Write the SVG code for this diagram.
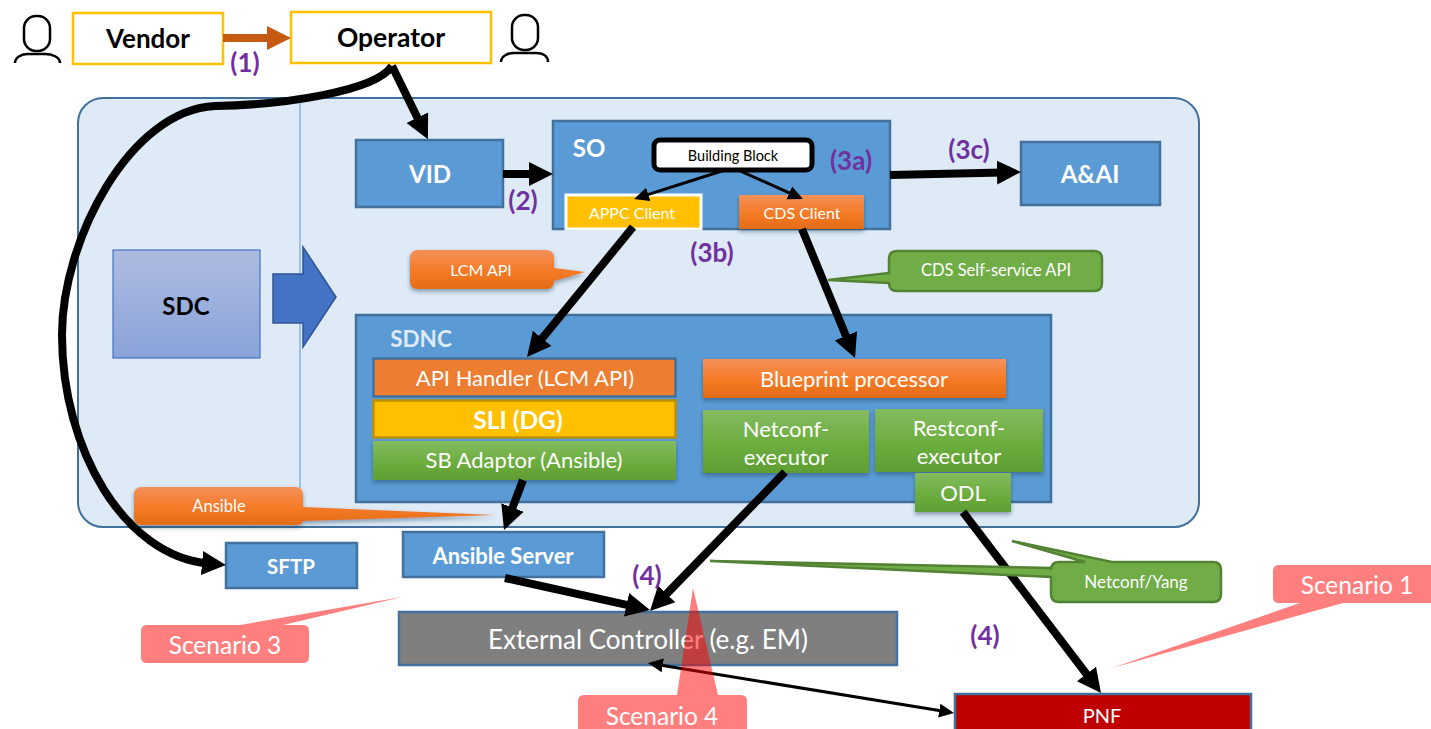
<svg xmlns="http://www.w3.org/2000/svg" width="1431" height="729" viewBox="0 0 1431 729">
<style>
text{font-family:Lato,"Open Sans","Liberation Sans",sans-serif;text-anchor:middle;dominant-baseline:central;fill:#fff}
.blue{fill:#5B9BD5;stroke:#41719C;stroke-width:2.5}
.org{fill:url(#go);filter:url(#sh)}
.grn{fill:url(#gg);filter:url(#sh)}
.b{font-weight:700}
.num{font-weight:700;font-size:26px;fill:#7030A0}
.thick{fill:none;stroke:#000;stroke-width:8;marker-end:url(#ah)}
.thin{fill:none;stroke:#000;stroke-width:3;marker-end:url(#as)}
.scn{fill:#f00;fill-opacity:.5}
.cg{fill:#70AD47;stroke:#548235;stroke-width:2.5}
.person{fill:none;stroke:#000;stroke-width:2.5}
</style>
<defs>
<linearGradient id="go" x1="0" y1="0" x2="0" y2="1"><stop offset="0" stop-color="#F4905A"/><stop offset=".55" stop-color="#F57A25"/><stop offset="1" stop-color="#E36C17"/></linearGradient>
<linearGradient id="gg" x1="0" y1="0" x2="0" y2="1"><stop offset="0" stop-color="#84BB60"/><stop offset=".55" stop-color="#6CAD3E"/><stop offset="1" stop-color="#5E9E33"/></linearGradient>
<linearGradient id="gs" x1="0" y1="0" x2="0" y2="1"><stop offset="0" stop-color="#AEBBE0"/><stop offset="1" stop-color="#8AA3D9"/></linearGradient>
<filter id="sh" x="-10%" y="-20%" width="120%" height="150%"><feDropShadow dx="0" dy="2.5" stdDeviation="2" flood-color="#1f3050" flood-opacity=".45"/></filter>
<marker id="ah" markerUnits="userSpaceOnUse" markerWidth="24" markerHeight="26" refX="6" refY="13" orient="auto-start-reverse"><path d="M0 1 24 13 0 25z" fill="#000"/></marker>
<marker id="ao" markerUnits="userSpaceOnUse" markerWidth="24" markerHeight="26" refX="6" refY="13" orient="auto"><path d="M0 1 24 13 0 25z" fill="#C55A11"/></marker>
<marker id="as" markerUnits="userSpaceOnUse" markerWidth="15" markerHeight="16" refX="3" refY="8" orient="auto-start-reverse"><path d="M0 1 15 8 0 15z" fill="#000"/></marker>
</defs>

<g id="platform"><rect x="78" y="98" width="1121" height="429" rx="25" fill="#DEEAF6" stroke="#41719C" stroke-width="2"/><line x1="300" y1="98" x2="300" y2="488" stroke="#5B9BD5" stroke-width="1"/></g>
<g id="vendor-user" class="person"><rect x="24" y="16" width="26" height="35" rx="12"/><path d="M15 63C15 57 22 54 28 54H45C52 54 60 57 60 63"/></g>
<g id="operator-user" class="person"><rect x="512" y="15" width="26" height="35" rx="12"/><path d="M501 62C501 56 508 53 514 53H536C543 53 548 56 548 62"/></g>
<g id="vendor"><rect x="73" y="13" width="150" height="51" fill="#fff" stroke="#FFC000" stroke-width="2.5"/><text x="148" y="38" class="b" font-size="26" style="fill:#000">Vendor</text></g>
<g id="operator"><rect x="291" y="12" width="200" height="51" fill="#fff" stroke="#FFC000" stroke-width="2.5"/><text x="391" y="37" class="b" font-size="26.500" style="fill:#000">Operator</text></g>
<g id="vid"><rect x="356" y="140" width="147" height="67" class="blue"/><text x="430" y="173" class="b" font-size="24">VID</text></g>
<g id="so"><rect x="553" y="121" width="337" height="108" class="blue"/><text x="589" y="147" class="b" font-size="24">SO</text></g>
<g id="building-block"><rect x="654" y="140" width="158" height="30" rx="6" fill="#fff" stroke="#000" stroke-width="5"/><text x="733" y="155" font-size="14.500" style="fill:#000">Building Block</text></g>
<g id="appc-client"><rect x="566" y="195" width="135" height="34" fill="#FFC000" stroke="#fff" stroke-width="3"/><text x="632" y="212" font-size="16">APPC Client</text></g>
<g id="cds-client"><rect x="739" y="195" width="125" height="34" class="org"/><text x="802" y="212" font-size="16">CDS Client</text></g>
<g id="aai"><rect x="1021" y="142" width="139" height="63" class="blue"/><text x="1090" y="173" class="b" font-size="24">A&amp;AI</text></g>
<g id="sdc"><rect x="113" y="250" width="147" height="108" fill="url(#gs)" stroke="#4472C4" stroke-width="1.2"/><text x="186" y="305" class="b" font-size="24" style="fill:#000">SDC</text></g>
<g id="sdc-arrow"><path d="M273 274H303V247L336 297 303 347V323H273z" fill="#4472C4" stroke="#2F5597" stroke-width="1.5"/></g>
<g id="sdnc"><rect x="356" y="315" width="695" height="187" class="blue"/><text x="421" y="338" class="b" font-size="22.500" style="fill:#DEEAF6">SDNC</text></g>
<g id="api-handler"><rect x="373.500" y="358.500" width="302" height="38" fill="#ED7D31" stroke="#41719C" stroke-width="2.500"/><text x="525" y="377" font-size="22">API Handler (LCM API)</text></g>
<g id="sli"><rect x="373.500" y="400.500" width="302" height="37" fill="#FFC000" stroke="#BF9000" stroke-width="2.500"/><text x="518" y="419" class="b" font-size="24.500">SLI (DG)</text></g>
<g id="sb-adaptor"><rect x="373" y="441" width="303" height="39" class="grn"/><text x="524" y="459" font-size="22">SB Adaptor (Ansible)</text></g>
<g id="blueprint"><rect x="703" y="359" width="303" height="39" class="org"/><text x="854" y="378" font-size="22">Blueprint processor</text></g>
<g id="netconf-executor"><rect x="703" y="410" width="166" height="63" class="grn"/><text x="786" y="428" font-size="22">Netconf-</text><text x="786" y="456" font-size="22">executor</text></g>
<g id="restconf-executor"><rect x="875" y="409" width="168" height="63" class="grn"/><text x="959" y="427" font-size="22">Restconf-</text><text x="959" y="455" font-size="22">executor</text></g>
<g id="odl"><rect x="915" y="473" width="96" height="39" class="grn"/><text x="963" y="492" font-size="22">ODL</text></g>
<g id="ansible-server"><rect x="403" y="532" width="201" height="45" class="blue"/><text x="503" y="555" class="b" font-size="22">Ansible Server</text></g>
<g id="sftp"><rect x="226" y="543" width="131" height="45" class="blue"/><text x="291" y="566" class="b" font-size="20.500">SFTP</text></g>
<g id="external-controller"><rect x="399" y="612" width="498" height="53" fill="#7F7F7F" stroke="#41719C" stroke-width="2.500"/><text x="648" y="639" font-size="26">External Controller (e.g. EM)</text></g>
<g id="pnf"><rect x="955" y="694" width="296" height="40" fill="#C00000" stroke="#41719C" stroke-width="2.500"/><text x="1102" y="715" font-size="20">PNF</text></g>

<g id="connectors">
<line x1="223" y1="38" x2="273" y2="38" stroke="#C55A11" stroke-width="8" marker-end="url(#ao)"/>
<path class="thick" d="M392 66C375 92 280 105 215 106C130 110 62 240 62 335C62 450 125 556 208 563.500"/>
<line class="thick" x1="392" y1="66" x2="420" y2="123"/>
<line class="thick" x1="503" y1="174" x2="535" y2="174"/>
<line class="thin" x1="725" y1="170" x2="645.400" y2="195.400"/>
<line class="thin" x1="738" y1="170" x2="792" y2="194.100"/>
<line class="thick" x1="890" y1="175" x2="1003" y2="172.400"/>
<line class="thick" x1="633" y1="227" x2="538.400" y2="343"/>
<line class="thick" x1="802" y1="229" x2="848.200" y2="341.400"/>
<line class="thick" x1="523" y1="480" x2="510.400" y2="513.200"/>
<line class="thick" x1="505" y1="578" x2="632.400" y2="606.100"/>
<line class="thick" x1="785" y1="472" x2="662.500" y2="598.100"/>
<line class="thick" x1="963" y1="512" x2="1090.100" y2="678.700"/>
<line class="thin" x1="659.800" y1="664.900" x2="942.200" y2="711.100" marker-start="url(#as)"/>
</g>

<g id="labels">
<text x="245" y="62" class="num">(1)</text>
<text x="523" y="200" class="num">(2)</text>
<text x="851" y="160" class="num">(3a)</text>
<text x="712" y="252" class="num">(3b)</text>
<text x="969" y="149" class="num">(3c)</text>
<text x="647" y="575" class="num">(4)</text>
<text x="985" y="635" class="num">(4)</text>
</g>

<g id="lcm-api"><path d="M418 250H546Q554 250 554 258V268L585 272 554 281V281Q554 289 546 289H418Q410 289 410 281V258Q410 250 418 250z" class="org"/><text x="481" y="269" font-size="16">LCM API</text></g>
<g id="cds-api"><path d="M897 251H1094Q1102 251 1102 259V283Q1102 291 1094 291H897Q889 291 889 283V283L828 280 889 273V259Q889 251 897 251z" class="cg"/><text x="996" y="270" font-size="16.500">CDS Self-service API</text></g>
<g id="ansible-callout"><path d="M142 487H295Q303 487 303 495V507L495 515 303 521Q303 525 295 525H142Q134 525 134 517V495Q134 487 142 487z" class="org"/><text x="219" y="506" font-size="16.500">Ansible</text></g>
<g id="netconf-yang"><path d="M1059 562H1085L1012 541 1112 562H1213Q1221 562 1221 570V594Q1221 602 1213 602H1059Q1051 602 1051 594V577L710 561 1051 568V570Q1051 562 1059 562z" class="cg"/><text x="1136" y="581" font-size="17">Netconf/Yang</text></g>
<g id="scenario-1"><path d="M1279 565H1431V603H1343L1112 668 1300 603H1279Q1273 603 1273 597V571Q1273 565 1279 565z" class="scn"/><text x="1357" y="584" font-size="24.500">Scenario 1</text></g>
<g id="scenario-3"><path d="M147 625H240L402 597 283 625H303Q309 625 309 631V657Q309 663 303 663H147Q141 663 141 657V631Q141 625 147 625z" class="scn"/><text x="225" y="644" font-size="24.500">Scenario 3</text></g>
<g id="scenario-4"><path d="M584 695H677L693 588 718 695H741Q747 695 747 701V729H578V701Q578 695 584 695z" class="scn"/><text x="662" y="715" font-size="24.500">Scenario 4</text></g>
</svg>
